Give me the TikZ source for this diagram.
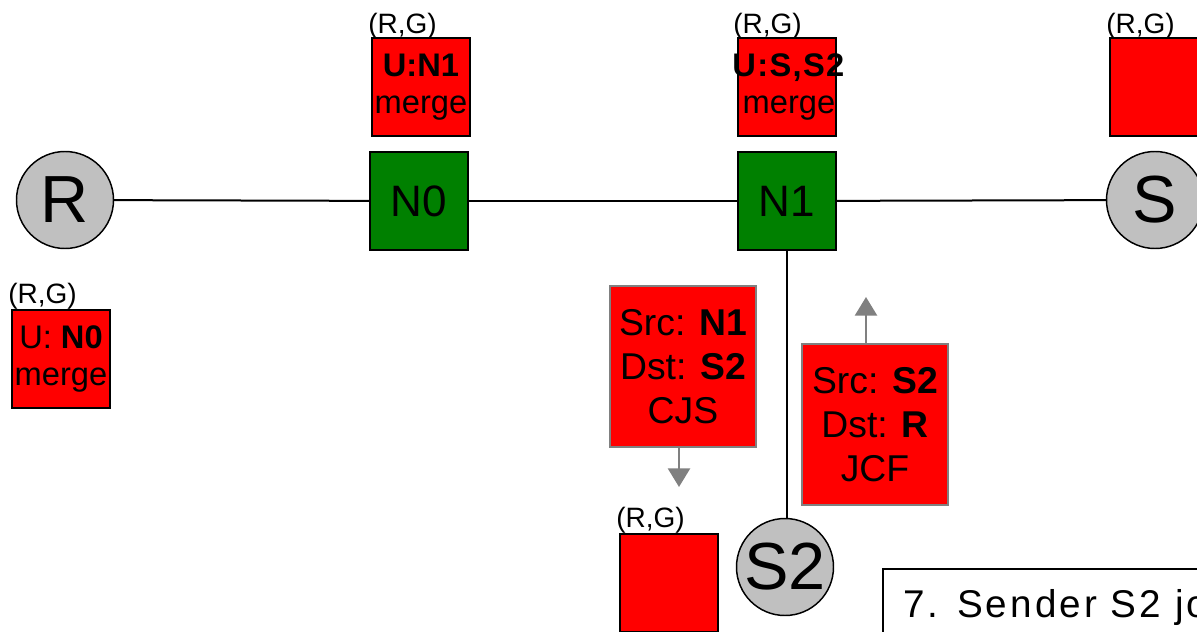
\documentclass[tikz,border=0pt]{standalone}
\usepackage{fontspec}
\setmainfont{Liberation Sans}
\usetikzlibrary{arrows.meta}
\definecolor{boxred}{RGB}{255,0,0}
\definecolor{boxgreen}{RGB}{0,128,0}
\definecolor{hostgray}{RGB}{192,192,192}
\definecolor{arrowgray}{RGB}{128,128,128}

\begin{document}
\begin{tikzpicture}[x=0.75pt,y=-0.75pt,
  host/.style={circle, draw=black, line width=1.1pt, fill=hostgray,
    minimum size=72.75pt, inner sep=0pt, font=\fontsize{50}{60}\selectfont},
  router/.style={rectangle, draw=black, line width=1.5pt, fill=boxgreen,
    minimum size=73.5pt, inner sep=0pt, font=\fontsize{33}{40}\selectfont},
  state/.style={rectangle, draw=black, line width=1.5pt, fill=boxred,
    minimum size=73.5pt, inner sep=0pt},
  statetext/.style={align=center, inner sep=0pt, font=\fontsize{24.5}{28}\selectfont},
  rg/.style={anchor=base west, inner sep=0pt, font=\fontsize{21}{25}\selectfont},
  msg/.style={rectangle, draw=arrowgray, line width=1.5pt, fill=boxred,
    minimum width=109.5pt, minimum height=120.75pt, inner sep=0pt,
    align=center, font=\fontsize{28}{33}\selectfont},
  link/.style={draw=black, line width=1.5pt},
  flow/.style={draw=arrowgray, line width=2pt, -{Triangle[width=16.5pt,length=14pt]}},
]
\useasboundingbox (0,0) rectangle (1197,632);
\clip (0,0) rectangle (1197,632);

% hosts and routers
\node[host]   (R)  at (65,200)  {R};
\node[router] (N0) at (419,201) {N0};
\node[router] (N1) at (787,201) {N1};
\node[host]   (S)  at (1155,200) {S};
\node[host]   (S2) at (785,567) {S2};

% links
\draw[link] (R) -- (N0);
\draw[link] (N0) -- (N1);
\draw[link] (N1) -- (S);
\draw[link] (N1.south) -- (N1.south |- S2.north);

% (R,G) state boxes
\node[state] (stN0) at (421,87) {};
\node[statetext] (stN0t) at (stN0.center) {\textbf{U:N1}\\merge};
\node[rg] (rgN0) at (368,33) {(R,G)};

\node[state] (stN1) at (787,87) {};
\node[statetext] (stN1t) at (789,87)
  {{\addfontfeature{LetterSpace=4}\textbf{U:S,S2}}\\merge};
\node[rg] (rgN1) at (733,33) {(R,G)};

\node[state] (stS) at (1159,87) {};
\node[rg] (rgS) at (1106,33) {(R,G)};

\node[state] (stR) at (61,359) {};
\node[statetext] (stRt) at (stR.center) {U: \textbf{N0}\\merge};
\node[rg] (rgR) at (8,303) {(R,G)};

\node[state] (stS2) at (669,583) {};
\node[rg] (rgS2) at (616,527) {(R,G)};

% control messages
\node[msg] (msgA) at (683,366.5) {Src: \textbf{N1}\\Dst: \textbf{S2}\\CJS};
\coordinate (tipA) at (679,487);
\draw[flow] (msgA.south -| tipA) -- (tipA);

\node[msg] (msgB) at (875,424.5) {Src: \textbf{S2}\\Dst: \textbf{R}\\JCF};
\coordinate (tipB) at (866,297);
\draw[flow] (msgB.north -| tipB) -- (tipB);

% step caption
\node[draw=black, line width=1.5pt, anchor=north west, minimum width=300pt,
  minimum height=80pt, inner sep=0pt] (capframe) at (882,568) {};
\node[anchor=base west, inner sep=0pt,
  font=\fontsize{29}{34}\selectfont\addfontfeature{LetterSpace=8}]
  (caption) at (903,617) {7. Sender S2 jo};
\end{tikzpicture}
\end{document}
